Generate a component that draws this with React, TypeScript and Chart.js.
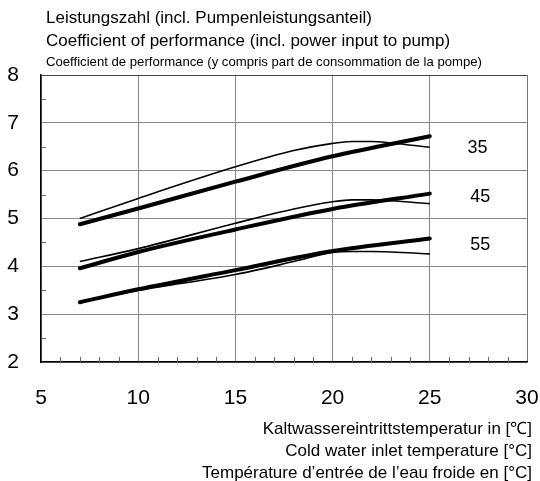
import React, { useEffect, useRef } from 'react';
import { Chart, registerables } from 'chart.js';

Chart.register(...registerables);

// ---- data ----
const tempThin = [7, 10, 15, 18, 20, 21, 22, 23, 25];
const tempThick = [7, 10, 15, 20, 25];

const thin35 = [5.0, 5.42, 6.08, 6.42, 6.57, 6.61, 6.61, 6.58, 6.49];
const thick35 = [4.88, 5.21, 5.77, 6.3, 6.72];

const thin45 = [4.1, 4.37, 4.9, 5.2, 5.35, 5.39, 5.39, 5.37, 5.31];
const thick45 = [3.96, 4.3, 4.77, 5.2, 5.52];

const thin55 = [3.25, 3.5, 3.83, 4.1, 4.29, 4.31, 4.31, 4.3, 4.26];
const thick55 = [3.25, 3.52, 3.92, 4.32, 4.58];

const curveLabels = ['35', '45', '55'];
const curveLabelX = [27.45, 27.6, 27.6];
const curveLabelY = [6.48, 5.45, 4.44];

const X_MIN = 5;
const X_MAX = 30;
const X_STEP = 5;
const Y_MIN = 2;
const Y_MAX = 8;
const Y_STEP = 1;

const titleLines = [
  'Leistungszahl (incl. Pumpenleistungsanteil)',
  'Coefficient of performance (incl. power input to pump)',
  'Coefficient de performance (y compris part de consommation de la pompe)',
];
const xTitleLines = [
  'Kaltwassereintrittstemperatur in [℃]',
  'Cold water inlet temperature [°C]',
  'Température d’entrée de l’eau froide en [°C]',
];

const FONT = '"Liberation Sans", Arial, sans-serif';

const toPoints = (xs: number[], ys: number[]) => xs.map((x, i) => ({ x, y: ys[i] }));

const decorPlugin = {
  id: 'decor',
  beforeDatasetsDraw(chart: any) {
    const ctx = chart.ctx;
    const { left, bottom } = chart.chartArea;
    const xs = chart.scales.x;
    const ys = chart.scales.y;
    ctx.save();
    ctx.strokeStyle = '#666';
    ctx.lineWidth = 1;
    ctx.beginPath();
    for (let v = X_MIN + 1; v < X_MAX; v++) {
      if (v % X_STEP === 0) continue;
      const px = Math.round(xs.getPixelForValue(v)) + 0.5;
      ctx.moveTo(px, bottom);
      ctx.lineTo(px, bottom - 5);
    }
    for (let v = Y_MIN + 0.5; v < Y_MAX; v += 1) {
      const py = Math.round(ys.getPixelForValue(v)) + 0.5;
      ctx.moveTo(left, py);
      ctx.lineTo(left + 5, py);
    }
    ctx.stroke();
    ctx.restore();
  },
  afterDatasetsDraw(chart: any) {
    const ctx = chart.ctx;
    const xs = chart.scales.x;
    const ys = chart.scales.y;
    ctx.save();
    ctx.fillStyle = '#000';
    ctx.font = `18px ${FONT}`;
    ctx.textAlign = 'center';
    ctx.textBaseline = 'middle';
    curveLabels.forEach((t, i) => {
      ctx.fillText(t, xs.getPixelForValue(curveLabelX[i]), ys.getPixelForValue(curveLabelY[i]));
    });
    ctx.restore();
  },
  afterDraw(chart: any) {
    const ctx = chart.ctx;
    ctx.save();
    ctx.fillStyle = '#000';
    ctx.textBaseline = 'alphabetic';
    ctx.textAlign = 'left';
    ctx.font = `17px ${FONT}`;
    ctx.fillText(titleLines[0], 46, 23);
    ctx.fillText(titleLines[1], 46, 46);
    ctx.font = `13px ${FONT}`;
    const w = ctx.measureText(titleLines[2]).width;
    ctx.translate(46, 66);
    ctx.scale(436 / w, 1);
    ctx.fillText(titleLines[2], 0, 0);
    ctx.setTransform(1, 0, 0, 1, 0, 0);
    ctx.textAlign = 'right';
    ctx.font = `17px ${FONT}`;
    ctx.fillText(xTitleLines[0], 532, 434);
    ctx.fillText(xTitleLines[1], 532, 456);
    ctx.fillText(xTitleLines[2], 532, 478);
    ctx.restore();
  },
};

export default function App() {
  const ref = useRef<HTMLCanvasElement | null>(null);

  useEffect(() => {
    if (!ref.current) return;
    const thin = { borderColor: '#000', borderWidth: 1.6, pointRadius: 0, cubicInterpolationMode: 'monotone' as const, fill: false };
    const thick = { borderColor: '#000', borderWidth: 4, pointRadius: 0, borderCapStyle: 'round' as const, cubicInterpolationMode: 'monotone' as const, fill: false };
    const chart = new Chart(ref.current, {
      type: 'line',
      data: {
        datasets: [
          { label: '35 thin', data: toPoints(tempThin, thin35), ...thin },
          { label: '35', data: toPoints(tempThick, thick35), ...thick },
          { label: '45 thin', data: toPoints(tempThin, thin45), ...thin },
          { label: '45', data: toPoints(tempThick, thick45), ...thick },
          { label: '55 thin', data: toPoints(tempThin, thin55), ...thin },
          { label: '55', data: toPoints(tempThick, thick55), ...thick },
        ],
      },
      options: {
        responsive: false,
        animation: false,
        layout: { padding: { top: 75, right: 13, bottom: 0, left: 0 } },
        plugins: { legend: { display: false }, tooltip: { enabled: false }, title: { display: false } },
        scales: {
          x: {
            type: 'linear',
            min: X_MIN,
            max: X_MAX,
            afterFit: (s: any) => { s.height = 119; },
            ticks: { stepSize: X_STEP, color: '#000', font: { family: FONT, size: 21 }, padding: 0, maxRotation: 0 },
            grid: {
              drawTicks: true,
              tickLength: 24,
              tickColor: 'rgba(0,0,0,0)',
              color: (c: any) => (c.tick && c.tick.value === X_MAX ? '#777' : '#8a8a8a'),
              lineWidth: 1,
            },
            border: { display: true, color: '#000', width: 1.5 },
          },
          y: {
            type: 'linear',
            min: Y_MIN,
            max: Y_MAX,
            afterFit: (s: any) => { s.width = 41; },
            ticks: { stepSize: Y_STEP, color: '#000', font: { family: FONT, size: 21 }, padding: 22 },
            grid: {
              drawTicks: false,
              color: (c: any) => (c.tick && c.tick.value === Y_MAX ? '#444' : '#8a8a8a'),
              lineWidth: 1,
            },
            border: { display: true, color: '#000', width: 1.5 },
          },
        },
      },
      plugins: [decorPlugin],
    });
    return () => chart.destroy();
  }, []);

  return (
    <div style={{ position: 'absolute', left: 0, top: 0, width: 540, height: 481, background: '#fff' }}>
      <canvas ref={ref} width={540} height={481} />
    </div>
  );
}
